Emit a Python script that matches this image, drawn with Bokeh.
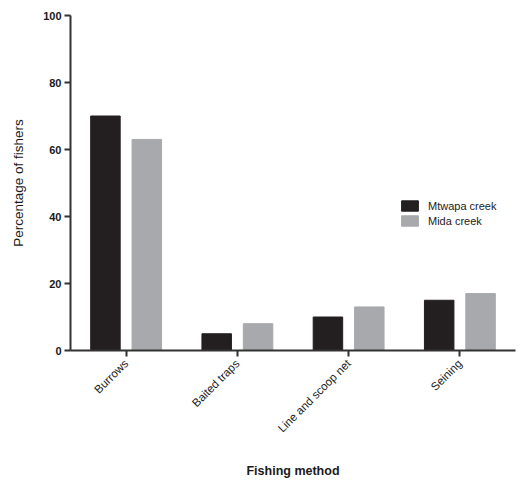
from math import pi
from bokeh.plotting import figure
from bokeh.models import ColumnDataSource, FixedTicker, Legend, LegendItem
from bokeh.transform import dodge
from bokeh.embed import file_html
from bokeh.resources import INLINE

methods = ["Burrows", "Baited traps", "Line and scoop net", "Seining"]
mtwapa = [70, 5, 10, 15]
mida = [63, 8, 13, 17]
series_names = ["Mtwapa creek", "Mida creek"]
y_ticks = [0, 20, 40, 60, 80, 100]

src = ColumnDataSource(dict(method=methods, mtwapa=mtwapa, mida=mida))

p = figure(x_range=methods, y_range=(0, 100), width=523, height=480,
           output_backend="svg", toolbar_location=None,
           min_border_top=15, min_border_right=8, min_border_left=70, min_border_bottom=130)
p.x_range.range_padding = 0
p.outline_line_color = None
p.xgrid.grid_line_color = None
p.ygrid.grid_line_color = None
p.background_fill_color = "white"

r1 = p.vbar(x=dodge("method", -0.186, range=p.x_range), top="mtwapa", width=0.265,
            source=src, fill_color="#231f20", line_color="#231f20")
r2 = p.vbar(x=dodge("method", 0.186, range=p.x_range), top="mida", width=0.265,
            source=src, fill_color="#a7a9ac", line_color="#a7a9ac")

legend = Legend(items=[LegendItem(label=series_names[0], renderers=[r1]),
                       LegendItem(label=series_names[1], renderers=[r2])],
                location=(329, 123), padding=0, spacing=2, margin=0,
                glyph_width=21, glyph_height=13, label_standoff=8,
                border_line_color=None, background_fill_alpha=0,
                label_text_font="Liberation Sans", label_text_font_size="11px",
                label_text_color="#222222")
p.add_layout(legend)

for ax in (p.xaxis[0], p.yaxis[0]):
    ax.axis_line_width = 2
    ax.axis_line_color = "#333333"
    ax.major_tick_line_width = 2
    ax.major_tick_line_color = "#333333"
    ax.major_tick_in = 0
    ax.major_tick_out = 6
    ax.minor_tick_line_color = None
    ax.major_label_text_color = "#1a1a1a"
    ax.axis_label_text_color = "#1a1a1a"
    ax.axis_label_text_font = "Liberation Sans"
    ax.major_label_text_font = "Liberation Sans"

p.yaxis.ticker = FixedTicker(ticks=y_ticks)
p.yaxis.major_label_text_font_size = "11px"
p.yaxis.major_label_text_font_style = "bold"
p.yaxis.major_label_standoff = 3
p.yaxis.axis_label = "Percentage of fishers"
p.yaxis.axis_label_text_font_size = "13.5px"
p.yaxis.axis_label_text_font_style = "normal"
p.yaxis.axis_label_standoff = 14

p.xaxis.major_label_orientation = pi / 4
p.xaxis.major_label_text_font_size = "11.5px"
p.xaxis.major_label_standoff = 5
p.xaxis.axis_label = "Fishing method"
p.xaxis.axis_label_text_font_size = "12.5px"
p.xaxis.axis_label_text_font_style = "bold"
p.xaxis.axis_label_standoff = 22

open("out.html", "w").write(file_html(p, INLINE))
